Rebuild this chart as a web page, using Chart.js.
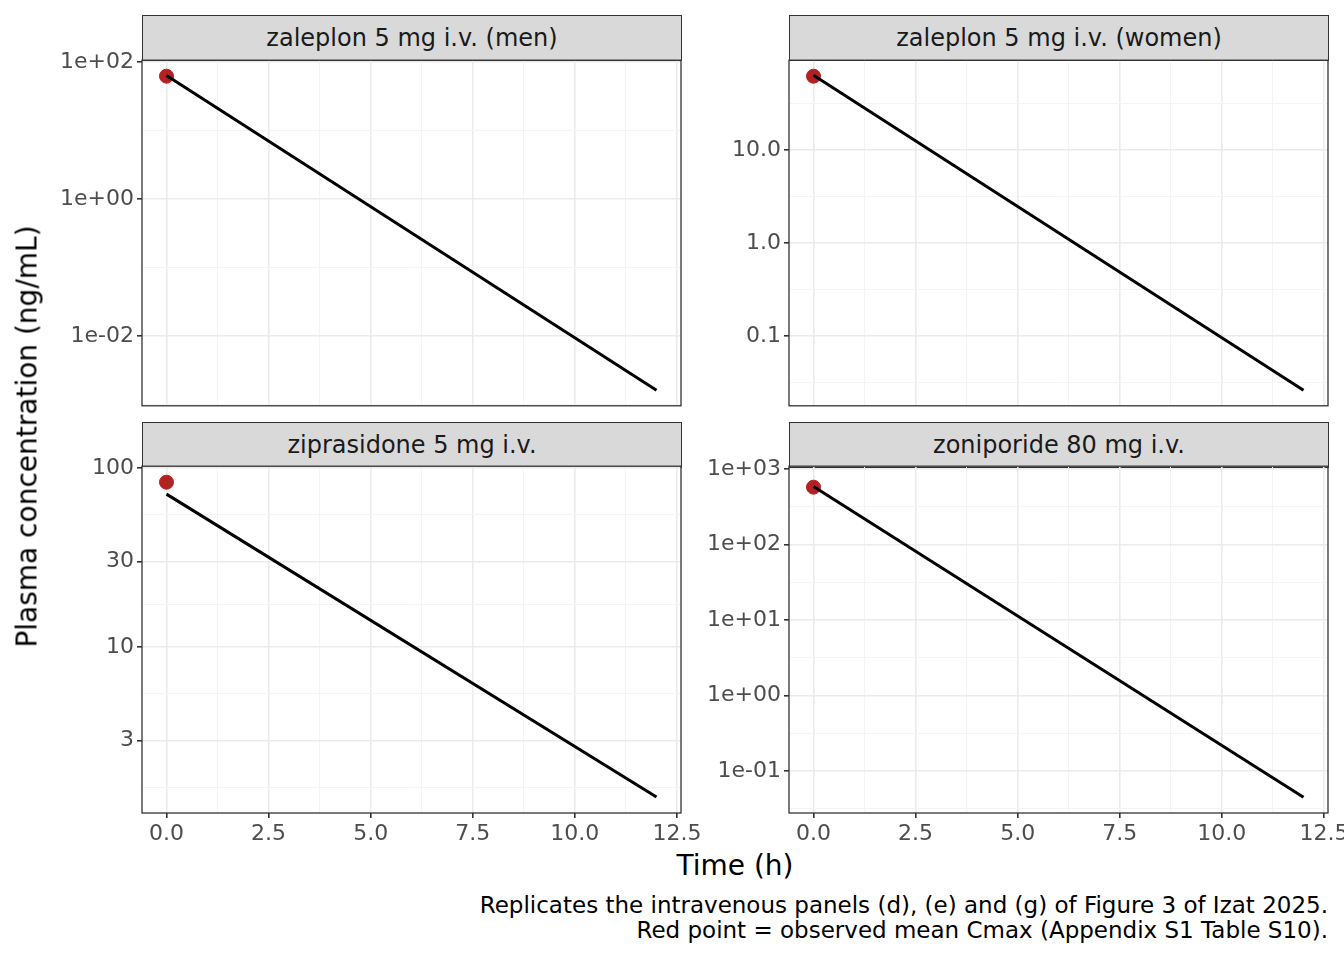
<!DOCTYPE html>
<html>
<head>
<meta charset="UTF-8">
<title>PK panels</title>
<script src="https://cdn.jsdelivr.net/npm/chart.js"></script>
<style>
  body { margin:0; width:1344px; height:960px; overflow:hidden; background:#fff; position:relative; font-family:"DejaVu Sans", sans-serif; }
  .box { position:absolute; }
  .strip { position:absolute; background:#d9d9d9; border:1.3px solid #333; box-sizing:border-box; text-align:center; font-size:24px; color:#1a1a1a; line-height:44px; }
  .txt { position:absolute; color:#000; white-space:nowrap; }
</style>
</head>
<body>
<div class="strip" style="left:142px;top:15px;width:540px;height:46px;">zaleplon 5 mg i.v. (men)</div>
<div class="strip" style="left:789px;top:15px;width:540px;height:46px;">zaleplon 5 mg i.v. (women)</div>
<div class="strip" style="left:142px;top:422px;width:540px;height:46px;">ziprasidone 5 mg i.v.</div>
<div class="strip" style="left:789px;top:422px;width:540px;height:46px;">zoniporide 80 mg i.v.</div>

<div class="box" style="left:42px;top:44px;width:664px;height:378px;"><canvas id="c0"></canvas></div>
<div class="box" style="left:689px;top:44px;width:664px;height:378px;"><canvas id="c1"></canvas></div>
<div class="box" style="left:42px;top:450px;width:664px;height:398px;"><canvas id="c2"></canvas></div>
<div class="box" style="left:689px;top:450px;width:664px;height:398px;"><canvas id="c3"></canvas></div>

<div class="txt" style="left:-223px;top:420px;width:500px;text-align:center;font-size:28px;transform:rotate(-90deg);">Plasma concentration (ng/mL)</div>
<div class="txt" style="left:585px;top:849px;width:300px;text-align:center;font-size:28px;">Time (h)</div>
<div class="txt" style="right:16px;top:893px;text-align:right;font-size:23px;line-height:25px;">Replicates the intravenous panels (d), (e) and (g) of Figure 3 of Izat 2025.<br>Red point = observed mean Cmax (Appendix S1 Table S10).</div>

<script>
// observed Cmax (red points)
const obsTime = [0, 0, 0, 0];
const obsCmax = [62.5, 62.5, 83.5, 578];
// predicted curve end points
const predTime = [0, 12];
const predMen = [64, 0.0016];
const predWomen = [64, 0.026];
const predZip = [71.6, 1.45];
const predZon = [590, 0.045];
// y axis breaks and labels
const yMajMen = [1e-2, 1, 100];
const yLabMen = ['1e-02', '1e+00', '1e+02'];
const yMajWomen = [0.1, 1, 10];
const yLabWomen = ['0.1', '1.0', '10.0'];
const yMajZip = [3, 10, 30, 100];
const yLabZip = ['3', '10', '30', '100'];
const yMajZon = [0.1, 1, 10, 100, 1000];
const yLabZon = ['1e-01', '1e+00', '1e+01', '1e+02', '1e+03'];
const yRange = [[0.00095, 107], [0.0177, 92.9], [1.18, 102.6], [0.0278, 1096]];
// x axis
const xMajor = [0, 2.5, 5, 7.5, 10, 12.5];
const xLabels = ['0.0', '2.5', '5.0', '7.5', '10.0', '12.5'];
const xRange = [-0.6, 12.6];

const preds = [predMen, predWomen, predZip, predZon];
const yMajors = [yMajMen, yMajWomen, yMajZip, yMajZon];
const yLabs = [yLabMen, yLabWomen, yLabZip, yLabZon];

function withMinors(majors, lo, hi, log) {
  const f = log ? Math.log10 : (v => v), inv = log ? (v => Math.pow(10, v)) : (v => v);
  const m = majors.map(f);
  const step = m.length > 1 ? m[1] - m[0] : 1;
  const out = [];
  for (let i = -1; i < m.length; i++) {
    const a = i < 0 ? m[0] - step : m[i];
    const b = i + 1 < m.length ? m[i + 1] : m[i] + step;
    const mid = inv((a + b) / 2);
    if (mid > lo && mid < hi) out.push({ value: mid, minor: true });
  }
  majors.forEach(v => out.push({ value: v, minor: false }));
  return out.sort((p, q) => p.value - q.value);
}

const borderPlugin = {
  id: 'panelBorder',
  afterDraw(chart) {
    const a = chart.chartArea, ctx = chart.ctx;
    ctx.save();
    ctx.strokeStyle = '#333';
    ctx.lineWidth = 1.3;
    ctx.strokeRect(a.left, a.top, a.right - a.left, a.bottom - a.top);
    ctx.restore();
  }
};

function isMinor(ctx) { return ctx.tick && ctx.tick.minor; }

for (let i = 0; i < 4; i++) {
  const bottom = i >= 2;
  const majors = yMajors[i], labs = yLabs[i];
  new Chart(document.getElementById('c' + i), {
    type: 'scatter',
    data: {
      datasets: [
        {
          data: predTime.map((t, k) => ({ x: t, y: preds[i][k] })),
          showLine: true, borderColor: '#000', borderWidth: 3, pointRadius: 0
        },
        {
          data: [{ x: obsTime[i], y: obsCmax[i] }],
          backgroundColor: '#b22222', borderColor: '#b22222', pointRadius: 7
        }
      ]
    },
    options: {
      responsive: true, maintainAspectRatio: false, animation: false,
      layout: { padding: { top: 10, right: 25, bottom: 0, left: 0 } },
      plugins: { legend: { display: false }, tooltip: { enabled: false } },
      scales: {
        x: {
          type: 'linear', min: xRange[0], max: xRange[1],
          afterBuildTicks: s => { s.ticks = withMinors(xMajor, xRange[0], xRange[1], false); },
          afterFit: s => { s.height = bottom ? 35 : 16; },
          border: { display: false },
          grid: {
            color: c => isMinor(c) ? '#f4f4f4' : '#ebebeb',
            lineWidth: c => isMinor(c) ? 1 : 1.6,
            drawTicks: bottom, tickLength: 5,
            tickColor: c => isMinor(c) ? 'rgba(0,0,0,0)' : '#333'
          },
          ticks: {
            display: bottom, autoSkip: false, maxRotation: 0, padding: 3,
            color: '#4d4d4d', font: { family: 'DejaVu Sans', size: 22 },
            callback: v => { const k = xMajor.indexOf(v); return k >= 0 ? xLabels[k] : ''; }
          }
        },
        y: {
          type: 'logarithmic', min: yRange[i][0], max: yRange[i][1],
          afterBuildTicks: s => { s.ticks = withMinors(majors, yRange[i][0], yRange[i][1], true); },
          afterFit: s => { s.width = 100; },
          border: { display: false },
          grid: {
            color: c => isMinor(c) ? '#f4f4f4' : '#ebebeb',
            lineWidth: c => isMinor(c) ? 1 : 1.6,
            drawTicks: true, tickLength: 5,
            tickColor: c => isMinor(c) ? 'rgba(0,0,0,0)' : '#333'
          },
          ticks: {
            autoSkip: false, padding: 3,
            color: '#4d4d4d', font: { family: 'DejaVu Sans', size: 22 },
            callback: v => { const k = majors.findIndex(m => Math.abs(m - v) / m < 1e-9); return k >= 0 ? labs[k] : ''; }
          }
        }
      }
    },
    plugins: [borderPlugin]
  });
}
</script>
</body>
</html>
